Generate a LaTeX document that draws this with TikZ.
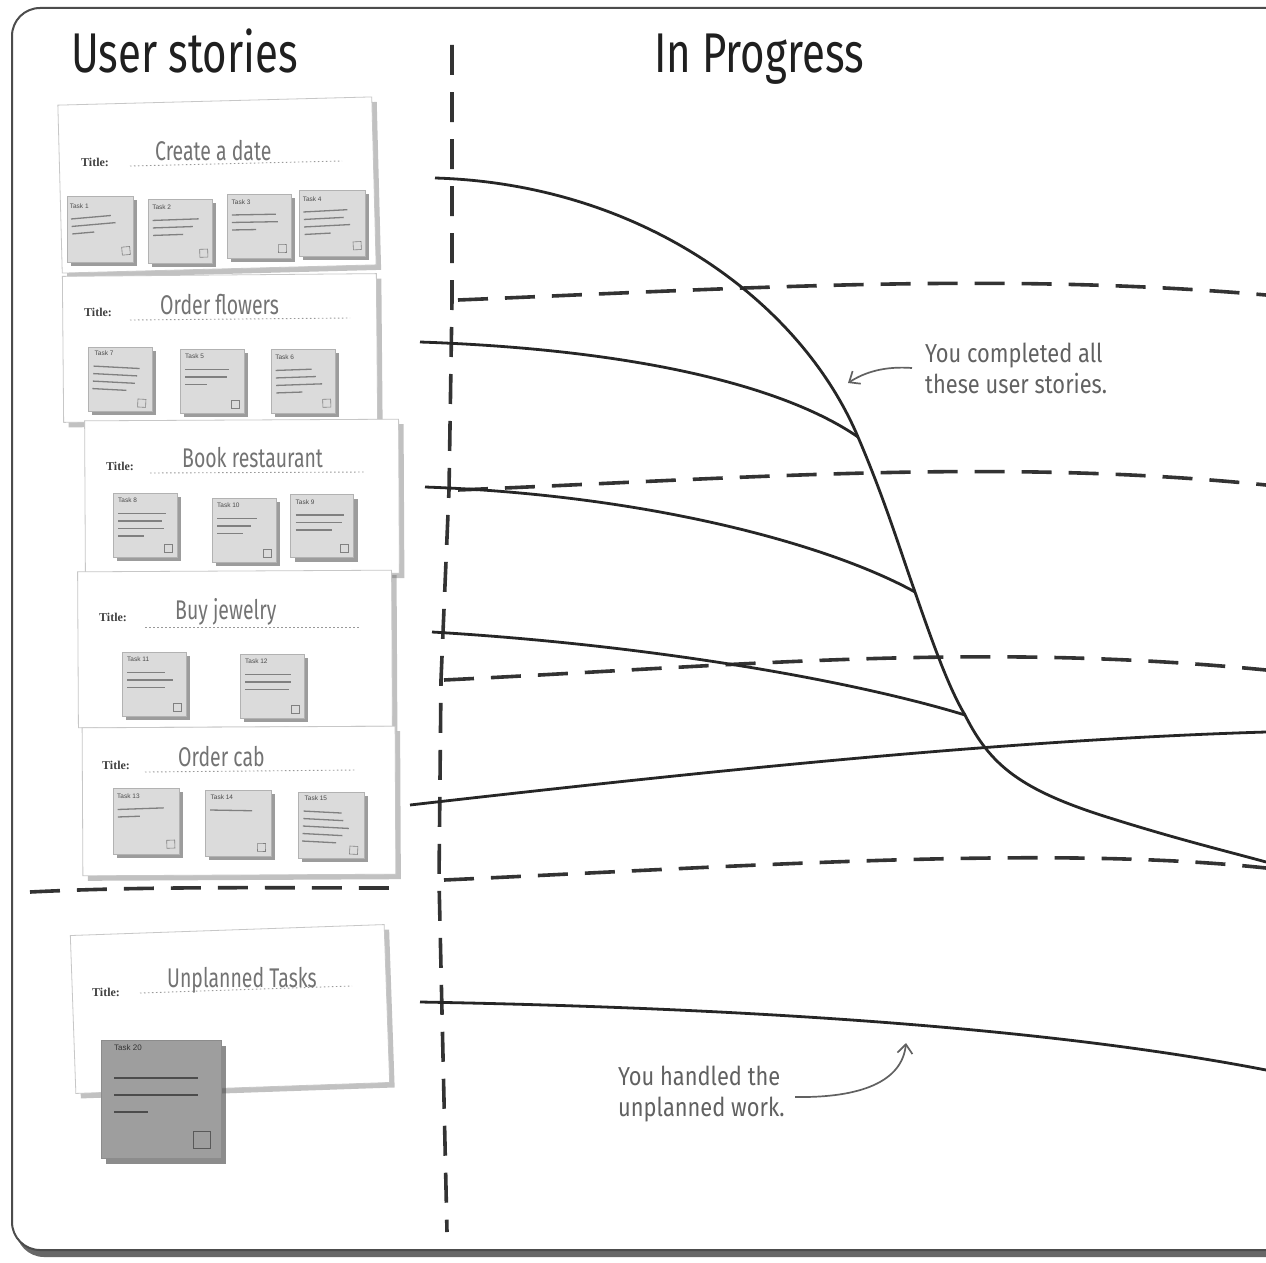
\documentclass[tikz,border=0pt]{standalone}
\usepackage{fontspec}
\usetikzlibrary{shadows,arrows.meta}
\newfontfamily\hand[FakeStretch=0.75]{Fira Sans}
\newfontfamily\handn[FakeStretch=0.84]{Fira Sans}
\newfontfamily\cardfont[FakeStretch=0.72]{Fira Sans}
\newfontfamily\serifb{Liberation Serif}
\newfontfamily\notef{Liberation Sans}

\tikzset{
  frame/.style={draw=black!70, line width=2pt, rounded corners=28pt, fill=white,
    drop shadow={shadow xshift=4pt, shadow yshift=-7pt, opacity=0.85, fill=black!70}},
  card/.style={draw=black!22, line width=0.8pt, fill=white, inner sep=0pt,
    drop shadow={shadow xshift=5pt, shadow yshift=-5pt, opacity=0.4, fill=black!60}},
  stickybox/.style={draw=black!30, line width=0.6pt, fill=black!14, inner sep=0pt,
    drop shadow={shadow xshift=4pt, shadow yshift=-4pt, opacity=0.55, fill=black!70}},
  bigsticky/.style={draw=black!45, line width=0.6pt, fill=black!38, inner sep=0pt,
    drop shadow={shadow xshift=5pt, shadow yshift=-6pt, opacity=0.6, fill=black!75}},
  notelbl/.style={font=\notef\fontsize{6.5}{6.5}\selectfont, text=black!70, inner sep=0pt},
  noteline/.style={black!50, line width=1.3pt},
  checkbox/.style={draw=black!50, line width=0.6pt},
  lanedash/.style={line width=3.6pt, black!80, dash pattern=on 30pt off 17pt},
  burn/.style={line width=2.8pt, black!85},
  cardtitle/.style={font=\cardfont\fontsize{27}{27}\selectfont, text=black!55, inner sep=0pt, anchor=base west},
  titlelbl/.style={font=\serifb\bfseries\fontsize{12}{12}\selectfont, text=black!75, inner sep=0pt, anchor=base west},
  dotline/.style={black!40, line width=0.9pt, dash pattern=on 1.5pt off 2.5pt},
  annot/.style={font=\handn\fontsize{26}{31}\selectfont, text=black!62, align=left, inner sep=0pt, anchor=base west},
  heading/.style={font=\hand\fontsize{56}{56}\selectfont, text=black!88, inner sep=0pt, anchor=base west},
  notearrow/.style={line width=1.7pt, black!62, -{Straight Barb[length=9pt,width=15pt]}},
}

% sticky note: name, x, y, angle, size, label, line widths
\newcommand{\stnote}[7]{%
  \begin{scope}[shift={(#2,#3)}, rotate=#4]
    \node[stickybox, minimum width=#5pt, minimum height=#5pt] (#1) at (0,0) {};
    \node[notelbl, anchor=north west] (#1t) at ({-#5/2+5},{-#5/2+5}) {#6};
    \foreach \w [count=\i] in {#7}
      \draw[noteline] ({-#5/2+5},{-#5/2+13+7.5*\i}) -- ++(\w,0);
    \draw[checkbox] ({#5/2-13},{#5/2-13}) rectangle ++(8,8);
  \end{scope}}

\begin{document}
\begin{tikzpicture}[x=1pt,y=-1pt]
\useasboundingbox (0,0) rectangle (1266,1263);

% frame
\path[frame] (12,8) rectangle (1320,1250);

% headings
\node[heading] (hUS) at (71,72) {User stories};
\node[heading] (hIP) at (654,72) {In Progress};

% ---------- user story cards ----------
% card 1
\node[card, minimum width=314pt, minimum height=168pt, rotate=1.5] (c1) at (217,185) {};
\node[titlelbl] (c1l) at (81,166) {Title:};
\draw[dotline] (130,166) -- (342,161);
\node[cardtitle] (c1t) at (155,160) {Create a date};
\stnote{s1}{100}{229}{5}{66}{Task 1}{40,44,22}
\stnote{s2}{180}{231}{2}{64}{Task 2}{46,40,30}
\stnote{s3}{259}{226}{1}{64}{Task 3}{44,46,24}
\stnote{s4}{332}{223}{3}{66}{Task 4}{44,40,46,26}

% card 2
\node[card, minimum width=314pt, minimum height=146pt, rotate=0.5] (c2) at (220,348) {};
\node[titlelbl] (c2l) at (84,316) {Title:};
\draw[dotline] (130,320) -- (350,318);
\node[cardtitle] (c2t) at (160,314) {Order flowers};
\stnote{s7}{120}{379}{-3}{64}{Task 7}{46,44,42,34}
\stnote{s5}{212}{381}{0}{64}{Task 5}{44,42,22}
\stnote{s6}{303}{381}{2}{64}{Task 6}{36,40,46,26}

% card 3
\node[card, minimum width=314pt, minimum height=154pt, rotate=0.3] (c3) at (242,497) {};
\node[titlelbl] (c3l) at (106,470) {Title:};
\draw[dotline] (150,473) -- (365,472);
\node[cardtitle] (c3t) at (182,467) {Book restaurant};
\stnote{s8}{145}{525}{0}{64}{Task 8}{48,44,46,26}
\stnote{s10}{244}{530}{0}{64}{Task 10}{40,34,26}
\stnote{s9}{322}{526}{0}{63}{Task 9}{48,46,36}

% card 4
\node[card, minimum width=314pt, minimum height=156pt, rotate=0.3] (c4) at (235,649) {};
\node[titlelbl] (c4l) at (99,621) {Title:};
\draw[dotline] (145,627) -- (360,627);
\node[cardtitle] (c4t) at (175,619) {Buy jewelry};
\stnote{s11}{154}{684}{0}{64}{Task 11}{38,46,38}
\stnote{s12}{272}{686}{0}{64}{Task 12}{46,46,44}

% card 5
\node[card, minimum width=313pt, minimum height=148pt, rotate=0.3] (c5) at (239,801) {};
\node[titlelbl] (c5l) at (102,769) {Title:};
\draw[dotline] (145,772) -- (355,770);
\node[cardtitle] (c5t) at (178,766) {Order cab};
\stnote{s13}{146}{821}{2}{66}{Task 13}{46,22}
\stnote{s14}{238}{823}{-1}{66}{Task 14}{42}
\stnote{s15}{331}{825}{-3}{66}{Task 15}{38,40,46,40,34}

% dashed separator under user stories
\draw[lanedash] (30,892) .. controls (150,886) and (280,888) .. (392,888);

% card 6: unplanned
\node[card, minimum width=314pt, minimum height=158pt, rotate=2] (c6) at (230,1009) {};
\node[titlelbl] (c6l) at (92,996) {Title:};
\draw[dotline] (140,993) -- (352,986);
\node[cardtitle] (c6t) at (167,987) {Unplanned Tasks};
\node[bigsticky, minimum width=120pt, minimum height=118pt] (u1) at (161,1099) {};
\node[notelbl, font=\notef\fontsize{8}{8}\selectfont, text=black!80, anchor=north west] (u1t) at (114,1044) {Task 20};
\draw[noteline, black!70] (114,1078) -- ++(84,0);
\draw[noteline, black!70] (114,1095) -- ++(84,0);
\draw[noteline, black!70] (114,1112) -- ++(34,0);
\draw[checkbox, black!65] (193,1131) rectangle ++(17,17);

% ---------- lanes ----------
\draw[lanedash] (452,45) -- (452,300) -- (449,490) -- (441,680) -- (439,880) -- (447,1232);
\draw[lanedash] (458,300) .. controls (750,288) and (1000,272) .. (1266,295);
\draw[lanedash] (458,490) .. controls (750,478) and (1000,458) .. (1266,485);
\draw[lanedash] (444,680) .. controls (750,665) and (980,642) .. (1266,670);
\draw[lanedash] (444,880) .. controls (750,866) and (1050,845) .. (1266,868);

% ---------- burn lines ----------
\coordinate (a0) at (435,178);
\coordinate (a1) at (858,437);
\coordinate (a2) at (915,592);
\coordinate (a3) at (965,715);
\coordinate (a4) at (1266,862);
\draw[burn] (a0) .. controls (640,184) and (800,300) .. (a1)
  .. controls (885,500) and (900,550) .. (a2)
  .. controls (935,650) and (950,690) .. (a3)
  .. controls (990,765) and (1020,790) .. (1110,818)
  .. controls (1180,840) and (1230,852) .. (a4);
\coordinate (b0) at (420,342);
\draw[burn] (b0) .. controls (650,350) and (790,390) .. (a1);
\coordinate (d0) at (425,487);
\draw[burn] (d0) .. controls (650,495) and (830,545) .. (a2);
\coordinate (e0) at (432,632);
\draw[burn] (e0) .. controls (650,645) and (850,680) .. (a3);
\coordinate (f0) at (410,805);
\coordinate (f1) at (1266,732);
\draw[burn] (f0) .. controls (700,772) and (1000,740) .. (f1);
\coordinate (g0) at (420,1002);
\coordinate (g1) at (1266,1070);
\draw[burn] (g0) .. controls (750,1008) and (1050,1028) .. (g1);

% ---------- annotations ----------
\node[annot] (n1) at (925,393) {You completed all\\these user stories.};
\coordinate (n1tail) at (912,368);
\coordinate (n1tip) at (848,383);
\draw[notearrow] (n1tail) .. controls (885,366) and (865,372) .. (n1tip);
\node[annot] (n2) at (618,1116) {You handled the\\unplanned work.};
\coordinate (n2tail) at (795,1097);
\coordinate (n2tip) at (906,1043);
\draw[notearrow] (n2tail) .. controls (860,1098) and (902,1082) .. (n2tip);

\end{tikzpicture}
\end{document}
